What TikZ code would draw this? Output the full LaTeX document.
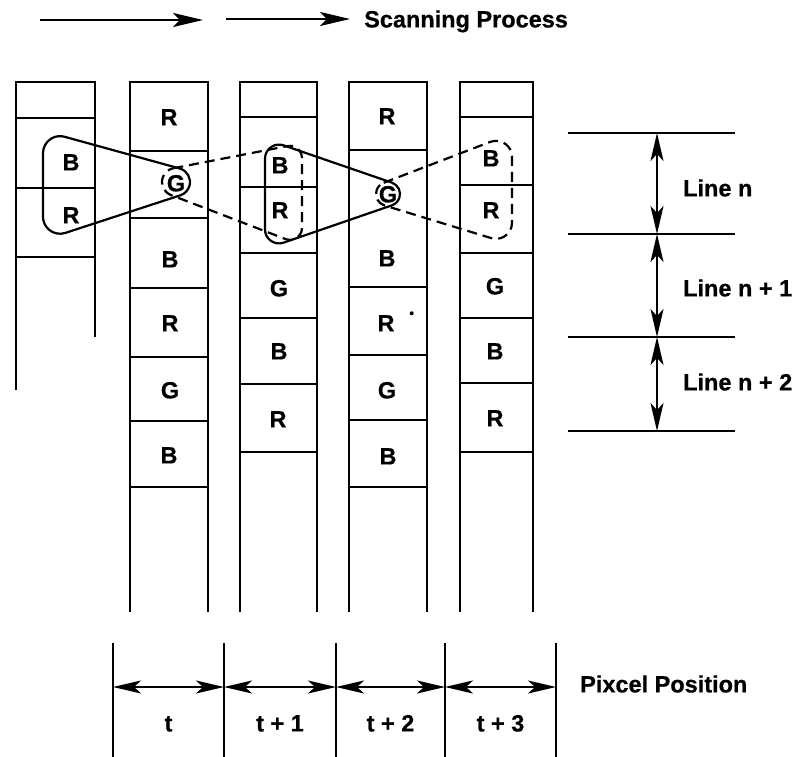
\documentclass[tikz,border=0pt]{standalone}
\usepackage{fontspec}
\setmainfont{Liberation Sans}[BoldFeatures={FakeBold=0.6}]
\usetikzlibrary{arrows.meta}
\begin{document}
\begin{tikzpicture}[x=1pt,y=-1pt,
  cell/.style={line width=2.2pt},
  lbl/.style={font=\fontsize{23.5}{28}\selectfont\bfseries, inner sep=0pt, text height=16.8pt, text depth=0pt},
  arr/.style={line width=2.6pt, -{Stealth[length=30pt,width=14pt,inset=7pt]}},
  darr/.style={line width=2.2pt, {Stealth[length=28pt,width=13pt,inset=7pt]}-{Stealth[length=28pt,width=13pt,inset=7pt]}},
  solidloop/.style={line width=2.2pt, line join=round},
  dashloop/.style={line width=2.2pt, dash pattern=on 10pt off 6pt}]

\useasboundingbox (0,0) rectangle (801,757);

% ---------- top arrows ----------
\coordinate (a1s) at (40,20);
\coordinate (a1e) at (203,20);
\coordinate (a2s) at (226,19);
\coordinate (a2e) at (350,19);
\draw[arr] (a1s) -- (a1e);
\draw[arr] (a2s) -- (a2e);
\node[lbl, anchor=west] (scan) at (364,19) {Scanning Process};

% ---------- columns ----------
% column 0 (partial)
\draw[cell] (16,390) -- (16,82) -- (95,82) -- (95,337);
\foreach \y in {118,188,257} \draw[cell] (16,\y) -- (95,\y);
% column 1
\draw[cell] (130,612) -- (130,82) -- (208,82) -- (208,612);
\foreach \y in {151,218,288,357,421,487} \draw[cell] (130,\y) -- (208,\y);
% column 2
\draw[cell] (240,612) -- (240,82) -- (317,82) -- (317,612);
\foreach \y in {117,187,253,318,384,452} \draw[cell] (240,\y) -- (317,\y);
% column 3
\draw[cell] (349,612) -- (349,82) -- (427,82) -- (427,612);
\foreach \y in {150,287,355,420,487} \draw[cell] (349,\y) -- (427,\y);
% column 4
\draw[cell] (460,612) -- (460,82) -- (533,82) -- (533,612);
\foreach \y in {117,185,253,318,383,452} \draw[cell] (460,\y) -- (533,\y);

% ---------- cell labels ----------
\node[lbl] (c0b) at (71,162) {B};
\node[lbl] (c0r) at (71,215) {R};

\node[lbl] (c1r1) at (169,117) {R};
\node[lbl] (c1g1) at (176,183) {G};
\node[lbl] (c1b1) at (170,259) {B};
\node[lbl] (c1r2) at (170,323) {R};
\node[lbl] (c1g2) at (170,390) {G};
\node[lbl] (c1b2) at (169,455) {B};

\node[lbl] (c2b1) at (280,165) {B};
\node[lbl] (c2r1) at (280,210) {R};
\node[lbl] (c2g1) at (279,288) {G};
\node[lbl] (c2b2) at (279,351) {B};
\node[lbl] (c2r2) at (278,419) {R};

\node[lbl] (c3r1) at (387,116) {R};
\node[lbl] (c3g1) at (388,194) {G};
\node[lbl] (c3b1) at (387,258) {B};
\node[lbl] (c3r2) at (386,323) {R};
\node[lbl] (c3g2) at (387,390) {G};
\node[lbl] (c3b2) at (388,456) {B};
\fill (411.7,313.3) circle[radius=2];

\node[lbl] (c4b1) at (491,158) {B};
\node[lbl] (c4r1) at (491,210) {R};
\node[lbl] (c4g1) at (495,286) {G};
\node[lbl] (c4b2) at (495,351) {B};
\node[lbl] (c4r2) at (495,418) {R};

% ---------- grouping loops ----------
% loop 1: solid, column 0 (B,R) -> G in column 1
\draw[solidloop] (64.52,136.75) -- (179.72,168.50) arc[start angle=-74.6,end angle=71.9,radius=14]
  -- (65.28,232.93) arc[start angle=71.9,end angle=180,radius=17]
  -- (43,153.14) arc[start angle=180,end angle=285.4,radius=17] -- cycle;
% loop 2: dashed, column 2 (B,R) -> G in column 1
\draw[dashloop] (173.33,168.26) -- (287.71,146.02) arc[start angle=-101,end angle=0,radius=12]
  -- (302,227.91) arc[start angle=0,end angle=111,radius=12]
  -- (170.98,195.07) arc[start angle=111,end angle=259,radius=14] -- cycle;
% loop 3: solid, column 2 (B,R) -> G in column 3
\draw[solidloop] (283.56,145.34) -- (391.91,182.65) arc[start angle=-71,end angle=71,radius=12]
  -- (283.56,242.66) arc[start angle=71,end angle=180,radius=14]
  -- (265,158.58) arc[start angle=180,end angle=289,radius=14] -- cycle;
% loop 4: dashed, column 4 (B,R) -> G in column 3
\draw[dashloop] (383.70,182.80) -- (490.27,141.89) arc[start angle=-111,end angle=0,radius=16]
  -- (512,222.84) arc[start angle=0,end angle=107,radius=16]
  -- (384.49,205.48) arc[start angle=107,end angle=249,radius=12] -- cycle;

% ---------- line scale (right) ----------
\foreach \y/\n in {133/a,234/b,337/c,431/d} {
  \draw[line width=2.2pt] (568,\y) -- (735,\y);
  \coordinate (s\n) at (657,\y);
}
\draw[darr] (sa) -- (sb);
\draw[darr] (sb) -- (sc);
\draw[darr] (sc) -- (sd);
\node[lbl, anchor=west] (ln0) at (683,188) {Line n};
\node[lbl, anchor=west] (ln1) at (683,288) {Line n + 1};
\node[lbl, anchor=west] (ln2) at (683,382) {Line n + 2};

% ---------- pixel position scale (bottom) ----------
\foreach \x/\n in {113/0,224/1,336/2,445/3,556/4} {
  \draw[line width=2.2pt] (\x,643) -- (\x,757);
  \coordinate (p\n) at (\x,687);
}
\draw[darr] (p0) -- (p1);
\draw[darr] (p1) -- (p2);
\draw[darr] (p2) -- (p3);
\draw[darr] (p3) -- (p4);
\node[lbl] (t0) at (168.5,723) {t};
\node[lbl] (t1) at (280,723) {t + 1};
\node[lbl] (t2) at (390.5,723) {t + 2};
\node[lbl] (t3) at (500.5,723) {t + 3};
\node[lbl, anchor=west] (pix) at (580,684) {Pixcel Position};
\end{tikzpicture}
\end{document}
